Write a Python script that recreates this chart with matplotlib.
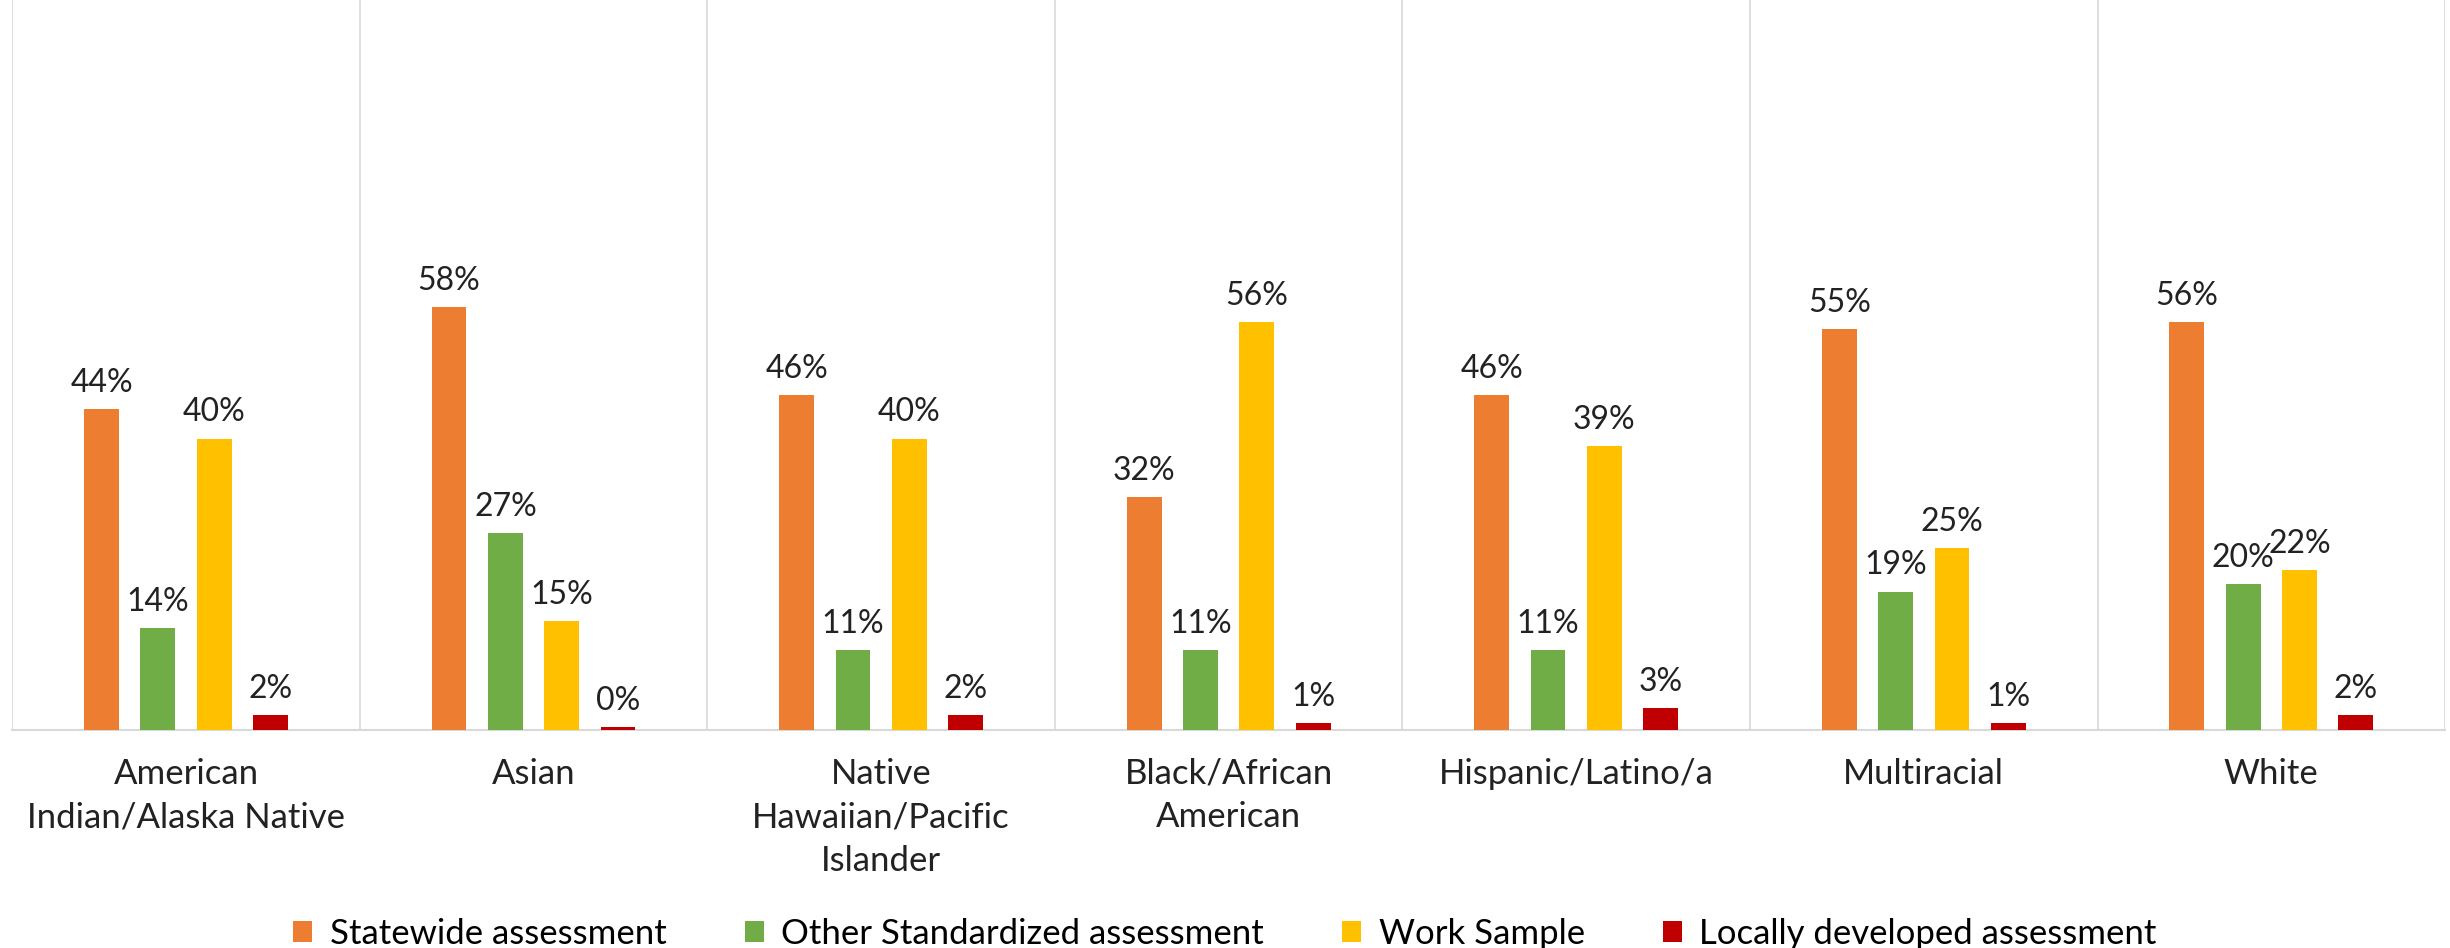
import numpy as np
import matplotlib.pyplot as plt

categories = ['American\nIndian/Alaska Native', 'Asian', 'Native\nHawaiian/Pacific\nIslander',
              'Black/African\nAmerican', 'Hispanic/Latino/a', 'Multiracial', 'White']
statewide = [44, 58, 46, 32, 46, 55, 56]
other_std = [14, 27, 11, 11, 11, 19, 20]
work_sample = [40, 15, 40, 56, 39, 25, 22]
local_dev = [2, 0.4, 2, 1, 3, 1, 2]
local_labels = ['2%', '0%', '2%', '1%', '3%', '1%', '2%']

series = [
    ('Statewide assessment', statewide, '#ED7D31'),
    ('Other Standardized assessment', other_std, '#70AD47'),
    ('Work Sample', work_sample, '#FFC000'),
    ('Locally developed assessment', local_dev, '#C00000'),
]

plt.rcParams['font.family'] = ['Lato', 'DejaVu Sans']

fig = plt.figure(figsize=(24.5, 9.48), dpi=100)
ax = fig.add_axes([0.005, 0.23, 0.993, 0.78])

x = np.arange(len(categories))
step = 0.162
width = 0.1
for i, (name, vals, col) in enumerate(series):
    pos = x + (i - 1.5) * step
    bars = ax.bar(pos, vals, width, color=col, label=name, zorder=3)
    if name == 'Locally developed assessment':
        labs = local_labels
    else:
        labs = [f'{v:.0f}%' for v in vals]
    for b, lab in zip(bars, labs):
        ax.annotate(lab, (b.get_x() + b.get_width() / 2, b.get_height()),
                    xytext=(0, 8), textcoords='offset points',
                    ha='center', va='bottom', fontsize=23, color='#222222')

ax.set_xlim(-0.5, len(categories) - 0.5)
ax.set_ylim(0, 101.5)
for s in np.arange(-0.5, len(categories) + 0.5, 1):
    ax.axvline(s, color='#D9D9D9', lw=1.2, zorder=1)
for sp in ['top', 'right', 'left']:
    ax.spines[sp].set_visible(False)
ax.spines['bottom'].set_color('#D9D9D9')
ax.spines['bottom'].set_linewidth(1.5)
ax.set_yticks([])
ax.set_xticks(x)
ax.set_xticklabels(categories, fontsize=25, color='#222222', linespacing=1.45)
ax.tick_params(axis='x', length=0, pad=20)

fig.legend(loc='lower center', ncol=4, bbox_to_anchor=(0.5, -0.035), frameon=False,
           fontsize=25, handlelength=0.55, handleheight=0.55, columnspacing=2.25,
           handletextpad=0.5)

plt.savefig('out.png', dpi=100)
